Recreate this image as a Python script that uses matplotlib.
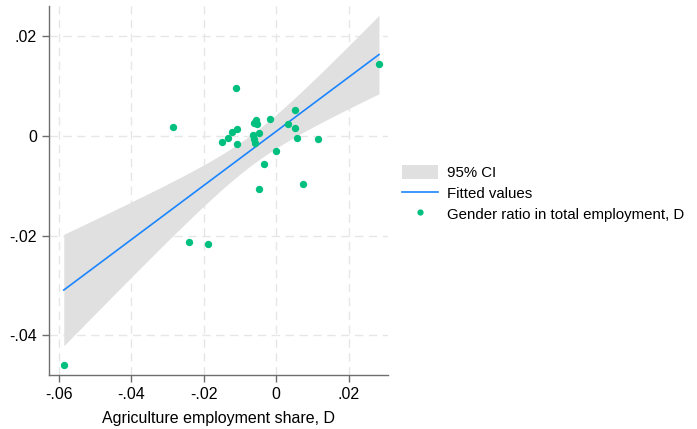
import numpy as np
import matplotlib
matplotlib.use("Agg")
from matplotlib import pyplot as plt
from matplotlib.patches import Patch
from matplotlib.lines import Line2D

plt.rcParams['font.family'] = ['Liberation Sans', 'DejaVu Sans']

# change in agriculture employment share vs change in gender ratio
agri_share_d = [-0.0586, 0.0284, -0.0110, -0.0284, -0.0240, -0.0187, 0.0053, -0.0016,
                0.0034, 0.0053, 0.0057, 0.0117, 0.0000, -0.0034, -0.0046, 0.0075,
                -0.0150, -0.0132, -0.0122, -0.0108, -0.0109, -0.0056, -0.0061, -0.0053,
                -0.0064, -0.0046, -0.0061, -0.0058]
gender_ratio_d = [-0.0460, 0.0145, 0.0096, 0.0018, -0.0213, -0.0218, 0.0052, 0.0034,
                  0.0025, 0.0015, -0.0005, -0.0007, -0.0030, -0.0056, -0.0106, -0.0096,
                  -0.0012, -0.0005, 0.0007, 0.0014, -0.0016, 0.0032, 0.0026, 0.0024,
                  0.0001, 0.0005, -0.0007, -0.0015]

xticks = [-0.06, -0.04, -0.02, 0, 0.02]
yticks = [-0.04, -0.02, 0, 0.02]

GREEN = '#00BF7F'
BLUE = '#1A85FF'
CI_GRAY = '#E0E0E0'


def stata_fmt(v):
    if abs(v) < 1e-12:
        return '0'
    s = '%g' % v
    return s.replace('0.', '.')


x = np.array(agri_share_d)
y = np.array(gender_ratio_d)
n = len(x)

# OLS fit with 95% CI of the mean prediction (like lfitci)
b1, b0 = np.polyfit(x, y, 1)
resid = y - (b0 + b1 * x)
s2 = np.sum(resid ** 2) / (n - 2)
xg = np.linspace(x.min(), x.max(), 200)
yg = b0 + b1 * xg
se = np.sqrt(s2 * (1.0 / n + (xg - x.mean()) ** 2 / np.sum((x - x.mean()) ** 2)))
tcrit = 2.056  # t(0.975, 26)
lo, hi = yg - tcrit * se, yg + tcrit * se

fig = plt.figure(figsize=(6.97, 4.29), dpi=100)
ax = fig.add_axes([0.0707, 0.126, 0.486, 0.86])

ax.fill_between(xg, lo, hi, color=CI_GRAY, linewidth=0, zorder=2)
ax.plot(xg, yg, color=BLUE, linewidth=1.2, zorder=3)
ax.scatter(x, y, s=28, color=GREEN, linewidths=0, zorder=4)

ax.set_xlim(-0.0626, 0.0309)
ax.set_ylim(-0.0480, 0.0261)
ax.set_xticks(xticks)
ax.set_yticks(yticks)
ax.set_xticklabels([stata_fmt(v) for v in xticks], fontsize=11.5)
ax.set_yticklabels([stata_fmt(v) for v in yticks], fontsize=11.5)
ax.grid(True, color='#E6E6E6', linestyle=(0, (6, 4)), linewidth=1, zorder=0)
ax.set_axisbelow(True)
for side in ['top', 'right']:
    ax.spines[side].set_visible(False)
for side in ['left', 'bottom']:
    ax.spines[side].set_color('#6E6E6E')
    ax.spines[side].set_linewidth(1)
ax.tick_params(direction='out', length=5, width=1, color='#6E6E6E', pad=4)
ax.set_xlabel('Agriculture employment share, D', fontsize=11.5, labelpad=6)

handles = [Patch(facecolor=CI_GRAY, edgecolor='none'),
           Line2D([], [], color=BLUE, linewidth=1.2),
           Line2D([], [], linestyle='none', marker='o', markersize=4.5,
                  markerfacecolor=GREEN, markeredgewidth=0)]
labels = ['95% CI', 'Fitted values', 'Gender ratio in total employment, D']
fig.legend(handles, labels, loc='center left', bbox_to_anchor=(0.568, 0.55),
           frameon=False, fontsize=10.8, handlelength=2.4, handleheight=1.15,
           handletextpad=0.6, labelspacing=0.35, borderaxespad=0)

fig.savefig('out.png', dpi=100)
